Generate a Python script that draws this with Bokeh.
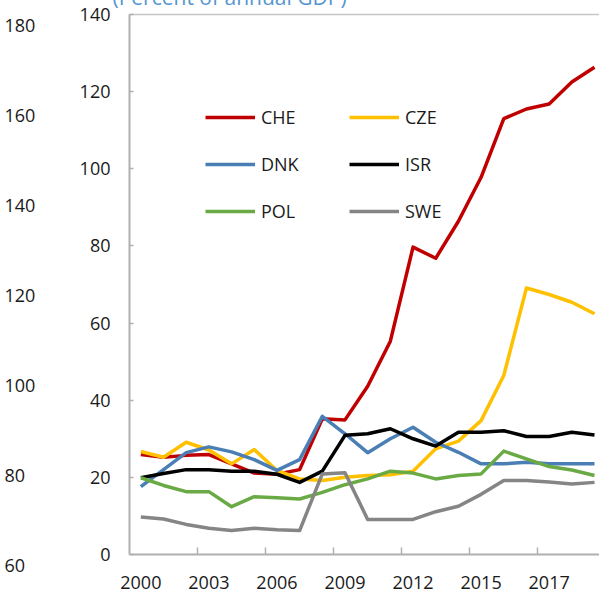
from bokeh.plotting import figure
from bokeh.models import Range1d, LinearAxis, FixedTicker, Legend, LegendItem
from bokeh.embed import file_html
from bokeh.resources import INLINE

# ---- data ----
x_idx = list(range(21))
x_tick_idx = [0, 3, 6, 9, 12, 15, 18]
x_tick_labels = ["2000", "2003", "2006", "2009", "2012", "2015", "2017"]
y_ticks = [0, 20, 40, 60, 80, 100, 120, 140]
outer_ticks = [60, 80, 100, 120, 140, 160, 180]

che = [25.9, 25.2, 25.7, 25.9, 23.5, 21.1, 20.8, 22.0, 35.2, 34.9, 43.6, 55.3, 79.7, 76.8, 86.4, 97.8, 113.0, 115.5, 116.8, 122.5, 126.3]
cze = [26.7, 25.2, 29.1, 27.1, 23.5, 27.2, 21.8, 19.6, 19.2, 20.0, 20.5, 20.7, 21.6, 27.4, 29.4, 34.7, 46.4, 69.1, 67.4, 65.4, 62.4]
dnk = [17.6, 22.0, 26.4, 27.9, 26.6, 24.6, 21.8, 24.6, 35.8, 31.3, 26.4, 30.0, 33.0, 29.1, 26.5, 23.5, 23.5, 23.9, 23.5, 23.5, 23.5]
isr = [19.9, 21.0, 22.0, 22.0, 21.6, 21.6, 20.8, 18.7, 21.6, 30.9, 31.3, 32.6, 30.0, 28.1, 31.7, 31.7, 32.1, 30.6, 30.6, 31.7, 31.0]
pol = [19.9, 17.9, 16.3, 16.3, 12.4, 15.0, 14.7, 14.4, 16.1, 18.1, 19.6, 21.6, 21.1, 19.6, 20.5, 20.9, 26.8, 24.8, 22.8, 21.9, 20.5]
swe = [9.7, 9.2, 7.8, 6.8, 6.2, 6.8, 6.4, 6.2, 20.9, 21.2, 9.1, 9.1, 9.1, 11.1, 12.5, 15.6, 19.2, 19.2, 18.8, 18.3, 18.7]

series_names = ["CHE", "CZE", "DNK", "ISR", "POL", "SWE"]
series_vals = [che, cze, dnk, isr, pol, swe]
series_colors = ["#c00000", "#ffc000", "#4a7fb5", "#000000", "#6aaa45", "#858585"]

FONT = "Open Sans"
TXT = "#1a1a1a"
AX = "#b0b0b0"

TOP = 26            # canvases start this far above the page top
H = 596 + TOP       # canvas height (bottom at window bottom)
A_W = 38            # width of the left strip

# ---- left strip: leftover outer axis (60..180) ----
px_per_unit = 90.1 / 20.0
y180 = 24.5
outer_hi = 180 + (y180 - 14) / px_per_unit
outer_lo = 180 - (596 - y180) / px_per_unit

pA = figure(width=A_W, height=H, output_backend="svg", toolbar_location=None,
            x_range=Range1d(0, 1), y_range=Range1d(outer_lo, outer_hi),
            x_axis_location=None, y_axis_location=None,
            min_border_left=0, min_border_right=0, min_border_top=14 + TOP, min_border_bottom=0,
            styles={"position": "absolute", "left": "0px", "top": f"-{TOP}px"})
pA.outline_line_color = None
pA.grid.grid_line_color = None
oax = LinearAxis(ticker=FixedTicker(ticks=outer_ticks, minor_ticks=[]),
                 axis_line_color=None, major_tick_in=0, major_tick_out=0,
                 minor_tick_in=0, minor_tick_out=0, major_label_standoff=0,
                 major_label_text_font=FONT, major_label_text_font_size="18px",
                 major_label_text_color=TXT)
pA.add_layout(oax, "right")

# ---- main chart ----
pB = figure(width=599 - A_W, height=H, output_backend="svg", toolbar_location=None,
            x_range=Range1d(-0.5, 20.22), y_range=Range1d(0, 140),
            x_axis_location=None, y_axis_location=None,
            min_border_left=129 - A_W, min_border_right=0, min_border_top=14 + TOP, min_border_bottom=42,
            styles={"position": "absolute", "left": f"{A_W}px", "top": f"-{TOP}px"})
pB.outline_line_color = None
pB.grid.grid_line_color = None

pB.title.text = "(Percent of annual GDP)"
pB.title.text_font = FONT
pB.title.text_font_size = "21px"
pB.title.text_font_style = "normal"
pB.title.text_color = "#5596d0"
pB.title.align = "left"
pB.title.offset = -17
pB.title.standoff = 7
pB.title.vertical_align = "bottom"

yax = LinearAxis(ticker=FixedTicker(ticks=y_ticks, minor_ticks=[]),
                 major_tick_in=4, major_tick_out=0, minor_tick_in=0, minor_tick_out=0,
                 axis_line_color=AX, axis_line_width=2, major_tick_line_color=AX, major_tick_line_width=1.5,
                 major_label_text_font=FONT, major_label_text_font_size="18px",
                 major_label_text_color=TXT, major_label_standoff=19)
pB.add_layout(yax, "left")

xax = LinearAxis(ticker=FixedTicker(ticks=x_tick_idx, minor_ticks=[t + 2.5 for t in x_tick_idx]),
                 major_label_overrides={t: l for t, l in zip(x_tick_idx, x_tick_labels)},
                 major_tick_in=0, major_tick_out=0, minor_tick_in=7, minor_tick_out=0,
                 axis_line_color=AX, axis_line_width=2, minor_tick_line_color=AX, minor_tick_line_width=1.5,
                 major_label_text_font=FONT, major_label_text_font_size="18px",
                 major_label_text_color=TXT, major_label_standoff=21)
pB.add_layout(xax, "below")

tax = LinearAxis(ticker=FixedTicker(ticks=[], minor_ticks=[]), axis_line_color="#c6c6c6",
                 axis_line_width=1.5, major_label_text_font_size="0px", major_label_standoff=0,
                 major_tick_in=0, major_tick_out=0, minor_tick_in=0, minor_tick_out=0)
pB.add_layout(tax, "above")

items = []
for name, vals, col in zip(series_names, series_vals, series_colors):
    r = pB.line(x_idx, vals, line_color=col, line_width=3.5, line_join="round")
    items.append(LegendItem(label=name, renderers=[r]))

legend = Legend(items=items, orientation="horizontal", ncols=2, location=(76, 331),
                glyph_width=50, glyph_height=22, label_height=22, label_width=65,
                spacing=23, padding=0, margin=0, label_standoff=6,
                border_line_color=None, background_fill_alpha=0,
                label_text_font=FONT, label_text_font_size="18px", label_text_color=TXT)
pB.add_layout(legend)

open("out.html", "w").write(file_html([pA, pB], INLINE))
